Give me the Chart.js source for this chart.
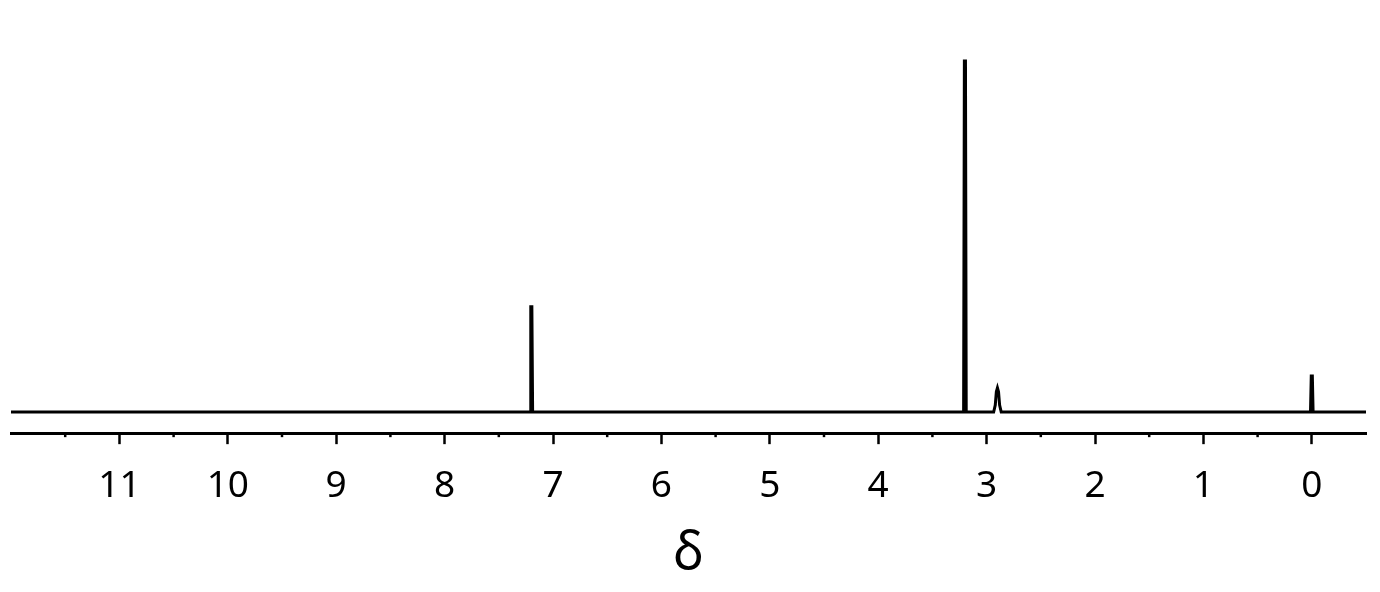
<!DOCTYPE html>
<html>
<head>
<meta charset="utf-8">
<script src="https://cdn.jsdelivr.net/npm/chart.js@4"></script>
<style>
    html, body { margin: 0; padding: 0; background: #fff; }
    #wrap { width: 1380px; height: 592px; }
</style>
</head>
<body>
<div id="wrap"><canvas id="spectre"></canvas></div>
<script>
// chemical shift (ppm) and relative intensity
const deplacements = [12, 7.212, 7.205, 7.195, 7.188, 3.212, 3.205, 3.195, 3.188,
    2.935, 2.92, 2.91, 2.9, 2.89, 2.88, 2.865, 0.012, 0.005, -0.005, -0.012, -0.5];
const intensites = [0, 0, 0.30, 0.30, 0, 0, 1.0, 1.0, 0,
    0, 0.02, 0.058, 0.069, 0.058, 0.02, 0, 0, 0.103, 0.103, 0, 0];

const ticksMajeurs = [11, 10, 9, 8, 7, 6, 5, 4, 3, 2, 1, 0];
const ticksMineurs = [11.5, 10.5, 9.5, 8.5, 7.5, 6.5, 5.5, 4.5, 3.5, 2.5, 1.5, 0.5, -0.5];

const points = [];
deplacements.forEach(function(x, i) {
    points.push({ x: x, y: intensites[i] });
});

// petites graduations entre les chiffres
const graduationsMineures = {
    id: "graduationsMineures",
    afterDraw(chart) {
        const ctx = chart.ctx;
        const echelle = chart.scales.x;
        const yAxe = chart.chartArea.bottom;
        ctx.save();
        ctx.strokeStyle = "#000";
        ctx.lineWidth = 2.5;
        ticksMineurs.forEach(function(v) {
            const px = echelle.getPixelForValue(v);
            if (px < chart.chartArea.left + 2 || px > chart.chartArea.right - 2) return;
            ctx.beginPath();
            ctx.moveTo(px, yAxe);
            ctx.lineTo(px, yAxe + 4);
            ctx.stroke();
        });
        ctx.restore();
    }
};

const ctx = document.getElementById("spectre");
new Chart(ctx, {
    type: "line",
    data: {
        datasets: [{
            label: "RMN",
            data: points,
            borderColor: "#000",
            borderWidth: 3,
            pointRadius: 0,
            tension: 0,
            fill: false
        }]
    },
    options: {
        responsive: true,
        maintainAspectRatio: false,
        animation: false,
        layout: {
            padding: { left: 11, right: 14, top: 40, bottom: 13 }
        },
        plugins: {
            legend: { display: false },
            tooltip: { enabled: false }
        },
        scales: {
            x: {
                type: "linear",
                reverse: true,
                min: -0.5,
                max: 12,
                afterBuildTicks(axis) {
                    axis.ticks = ticksMajeurs.map(function(v) { return { value: v }; });
                },
                border: { display: true, color: "#000", width: 3 },
                grid: {
                    drawOnChartArea: false,
                    drawTicks: true,
                    tickLength: 11,
                    tickWidth: 2.5,
                    tickColor: "#000"
                },
                ticks: {
                    color: "#000",
                    padding: 20,
                    font: { family: "Noto Sans", size: 37 },
                    maxRotation: 0,
                    autoSkip: false
                },
                title: {
                    display: true,
                    text: "δ",
                    color: "#000",
                    font: { family: "Noto Sans", size: 52, lineHeight: 0.97 },
                    padding: { top: 0, bottom: 0 }
                }
            },
            y: {
                display: false,
                min: -0.06,
                max: 1.06
            }
        }
    },
    plugins: [graduationsMineures]
});
</script>
</body>
</html>
